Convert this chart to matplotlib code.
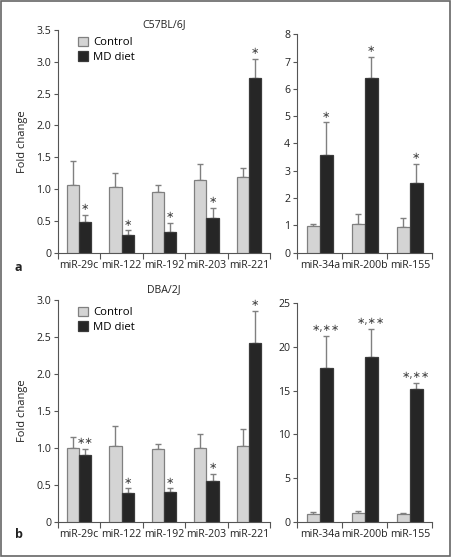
import matplotlib
matplotlib.use('Agg')
import numpy as np
import matplotlib.pyplot as plt
from matplotlib.patches import Rectangle, Patch
from matplotlib.ticker import FuncFormatter

plt.rcParams['font.family'] = ['Open Sans', 'DejaVu Sans']

# C57BL/6J
c57_left_names = ['miR-29c', 'miR-122', 'miR-192', 'miR-203', 'miR-221']
c57_left_ctrl = [1.06, 1.03, 0.96, 1.14, 1.19]
c57_left_ctrl_err = [0.38, 0.22, 0.10, 0.25, 0.14]
c57_left_md = [0.48, 0.28, 0.33, 0.55, 2.74]
c57_left_md_err = [0.12, 0.07, 0.14, 0.15, 0.31]
c57_left_sig = ['*', '*', '*', '*', '*']

c57_right_names = ['miR-34a', 'miR-200b', 'miR-155']
c57_right_ctrl = [0.98, 1.05, 0.94]
c57_right_ctrl_err = [0.07, 0.37, 0.33]
c57_right_md = [3.59, 6.41, 2.54]
c57_right_md_err = [1.18, 0.75, 0.72]
c57_right_sig = ['*', '*', '*']

# DBA/2J
dba_left_names = ['miR-29c', 'miR-122', 'miR-192', 'miR-203', 'miR-221']
dba_left_ctrl = [1.00, 1.03, 0.99, 1.00, 1.02]
dba_left_ctrl_err = [0.14, 0.27, 0.06, 0.18, 0.23]
dba_left_md = [0.90, 0.39, 0.40, 0.55, 2.42]
dba_left_md_err = [0.09, 0.06, 0.05, 0.10, 0.43]
dba_left_sig = ['**', '*', '*', '*', '*']

dba_right_names = ['miR-34a', 'miR-200b', 'miR-155']
dba_right_ctrl = [0.92, 0.95, 0.92]
dba_right_ctrl_err = [0.15, 0.23, 0.05]
dba_right_md = [17.56, 18.9, 15.15]
dba_right_md_err = [3.7, 3.2, 0.7]
dba_right_sig = ['*,**', '*,**', '*,**']

CTRL = '#d4d4d4'
MD = '#262626'
AXC = '#555555'
FS = 7.6


def make_fmt(decimals):
    def f(v, pos):
        if v == 0:
            return '0'
        return '%.*f' % (decimals, v)
    return FuncFormatter(f)


def draw(ax, names, ctrl, ctrl_err, md, md_err, sig, ymax, step, decimals):
    n = len(names)
    x = np.arange(n) + 0.5
    w = 0.29
    ax.bar(x - w / 2, ctrl, w, color=CTRL, edgecolor='#808080', linewidth=0.9, zorder=3)
    ax.bar(x + w / 2, md, w, color=MD, edgecolor='#3a3a3a', linewidth=0.9, zorder=3)
    ax.errorbar(x - w / 2, ctrl, yerr=[np.zeros(n), ctrl_err], fmt='none',
                ecolor='#808080', elinewidth=1, capsize=2.2, capthick=1, zorder=2)
    ax.errorbar(x + w / 2, md, yerr=[np.zeros(n), md_err], fmt='none',
                ecolor='#808080', elinewidth=1, capsize=2.2, capthick=1, zorder=2)
    for i in range(n):
        # asterisk operator sits at mid height like the original star
        label = sig[i].replace('*', '\u2217')
        ax.annotate(label, (x[i] + w / 2, md[i] + md_err[i]), xytext=(0, 2),
                    textcoords='offset points', ha='center', va='bottom',
                    fontsize=7.2, color='#444444', family=['DejaVu Sans'])
    ax.set_xlim(0, n)
    ax.set_ylim(0, ymax)
    ax.set_xticks(np.arange(n + 1))
    ax.set_xticklabels([])
    ax.set_xticks(x, minor=True)
    ax.set_xticklabels(names, minor=True, fontsize=FS, color='#222222')
    ax.tick_params(axis='x', which='major', length=4, direction='out', color=AXC, width=0.8)
    ax.tick_params(axis='x', which='minor', length=0, pad=5)
    ax.set_yticks(np.arange(0, ymax + step / 2, step))
    ax.yaxis.set_major_formatter(make_fmt(decimals))
    ax.tick_params(axis='y', length=3, direction='out', color=AXC, width=0.8,
                   labelsize=FS, labelcolor='#222222', pad=2)
    for s in ['top', 'right']:
        ax.spines[s].set_visible(False)
    for s in ['left', 'bottom']:
        ax.spines[s].set_color(AXC)
        ax.spines[s].set_linewidth(0.8)


fig = plt.figure(figsize=(4.51, 5.57), dpi=100)
W, H = 451.0, 557.0


def axes_px(l, r, b, t):
    return fig.add_axes([l / W, 1 - b / H, (r - l) / W, (b - t) / H])


ax1 = axes_px(58, 270, 252.7, 30)
ax2 = axes_px(297.3, 432.3, 252.7, 34.3)
ax3 = axes_px(58, 270, 521.7, 300)
ax4 = axes_px(297.3, 432.3, 521.7, 303.3)

draw(ax1, c57_left_names, c57_left_ctrl, c57_left_ctrl_err, c57_left_md,
     c57_left_md_err, c57_left_sig, 3.5, 0.5, 1)
draw(ax2, c57_right_names, c57_right_ctrl, c57_right_ctrl_err, c57_right_md,
     c57_right_md_err, c57_right_sig, 8, 1, 0)
draw(ax3, dba_left_names, dba_left_ctrl, dba_left_ctrl_err, dba_left_md,
     dba_left_md_err, dba_left_sig, 3.0, 0.5, 1)
draw(ax4, dba_right_names, dba_right_ctrl, dba_right_ctrl_err, dba_right_md,
     dba_right_md_err, dba_right_sig, 25, 5, 0)

for ax, title, ty in [(ax1, 'C57BL/6J', 25), (ax3, 'DBA/2J', 290)]:
    fig.text(164 / W, 1 - ty / H, title, fontsize=FS, color='#222222',
             ha='center', va='center')
    ax.set_ylabel('Fold change', fontsize=FS + 0.4, color='#222222', labelpad=6)
    handles = [Patch(facecolor=CTRL, edgecolor='#808080', linewidth=0.9, label='Control'),
               Patch(facecolor=MD, edgecolor='#3a3a3a', linewidth=0.9, label='MD diet')]
    ax.legend(handles=handles, loc='upper left', bbox_to_anchor=(0.06, 1.0),
              frameon=False, fontsize=FS + 0.6, handlelength=0.9, handleheight=0.9,
              handletextpad=0.5, labelspacing=0.25, borderaxespad=0.2)

fig.text(15 / W, 1 - 267 / H, 'a', fontsize=9, fontweight='bold', va='center', color='#222222')
fig.text(15 / W, 1 - 535 / H, 'b', fontsize=9, fontweight='bold', va='center', color='#222222')

fig.patches.append(Rectangle((0.002, 0.002), 0.996, 0.996, transform=fig.transFigure,
                             fill=False, edgecolor='#666666', linewidth=1.2))

fig.savefig('out.png', dpi=100)
